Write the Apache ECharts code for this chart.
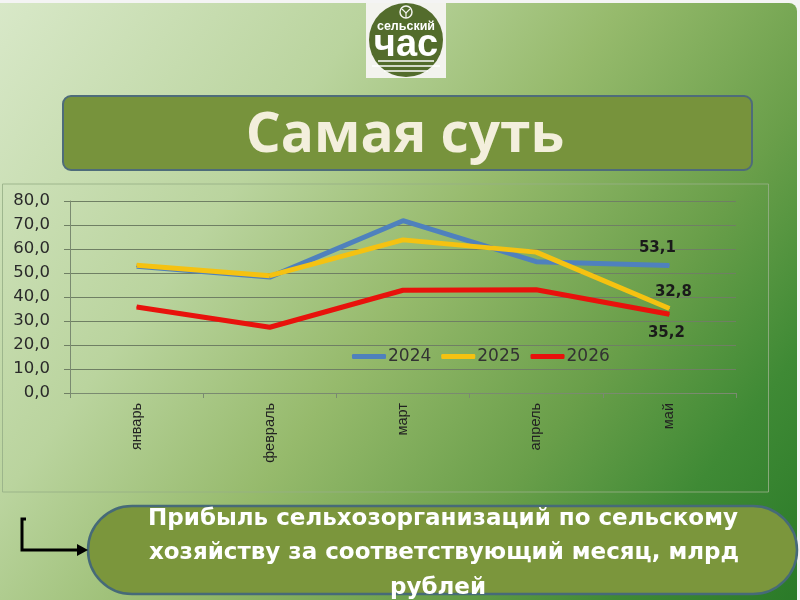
<!DOCTYPE html>
<html><head><meta charset="utf-8">
<script src="https://cdn.jsdelivr.net/npm/echarts@6/dist/echarts.min.js"></script>
<style>html,body{margin:0;padding:0;background:#f4f4f4}#c{width:800px;height:600px}</style>
</head><body><div id="c"></div>
<script>
const categories = ['январь', 'февраль', 'март', 'апрель', 'май'];
const seriesNames = ['2024', '2025', '2026'];
const v2024 = [52.8, 48.3, 71.8, 54.7, 53.1];
const v2025 = [53.2, 48.9, 63.8, 58.7, 35.2];
const v2026 = [35.8, 27.4, 42.8, 43.0, 32.8];
const yTicks = { min: 0, max: 80, interval: 10 };
const titleText = 'Самая суть';
const captionLines = ['Прибыль сельхозорганизаций по сельскому', 'хозяйству за соответствующий месяц, млрд', 'рублей'];

const fmt = v => v.toFixed(1).replace('.', ',');
const labelStyle = { fontFamily: 'DejaVu Sans', fontWeight: 'bold', fontSize: 15, color: '#1a1a1a' };

function buildData(values, lastLabel) {
  return values.map((v, i) => {
    if (i === values.length - 1 && lastLabel) {
      return { value: v, label: Object.assign({ show: true, formatter: p => fmt(p.value) }, labelStyle, lastLabel) };
    }
    return v;
  });
}

const chart = echarts.init(document.getElementById('c'));
const capFont = 'bold 23px "DejaVu Sans"';
const graphics = [
  { type: 'rect', z: -10, shape: { x: 0, y: 3, width: 797, height: 600, r: [0, 8, 0, 0] },
    style: { fill: new echarts.graphic.LinearGradient(0, 0, 1, 1, [
      { offset: 0, color: '#d8e8c8' }, { offset: 0.3, color: '#bad49e' }, { offset: 0.5, color: '#96ba6c' },
      { offset: 0.7, color: '#6a9f4a' }, { offset: 0.85, color: '#3f8a35' }, { offset: 1, color: '#2a7a28' }]) } },
  // logo
  { type: 'rect', z: -5, shape: { x: 366, y: 3, width: 80, height: 75 }, style: { fill: '#f3f3ee' } },
  { type: 'circle', z: -4, shape: { cx: 406, cy: 40, r: 37 }, style: { fill: '#536c2c' } },
  { type: 'circle', z: -3, shape: { cx: 406, cy: 12, r: 6 }, style: { fill: 'none', stroke: '#f3f3ee', lineWidth: 1.5 } },
  { type: 'polyline', z: -3, shape: { points: [[402, 9], [406, 13], [410, 9]] }, style: { stroke: '#f3f3ee', lineWidth: 1.2, fill: 'none' } },
  { type: 'line', z: -3, shape: { x1: 406, y1: 13, x2: 406, y2: 18 }, style: { stroke: '#f3f3ee', lineWidth: 1.2 } },
  { type: 'text', z: -3, x: 406, y: 27, style: { text: 'сельский', fill: '#ffffff', font: 'bold 12.5px "Liberation Sans"', align: 'center', verticalAlign: 'middle' } },
  { type: 'text', z: -3, x: 406, y: 46, style: { text: 'час', fill: '#ffffff', font: 'bold 38px "Liberation Sans"', align: 'center', verticalAlign: 'middle' } },
  { type: 'line', z: -3, shape: { x1: 378, y1: 61, x2: 434, y2: 61 }, style: { stroke: '#ffffff', lineWidth: 1.5 } },
  { type: 'line', z: -3, shape: { x1: 372, y1: 66, x2: 440, y2: 66 }, style: { stroke: '#ffffff', lineWidth: 1.5 } },
  { type: 'line', z: -3, shape: { x1: 384, y1: 71, x2: 428, y2: 71 }, style: { stroke: '#ffffff', lineWidth: 1.5 } },
  // title box
  { type: 'rect', z: -3, shape: { x: 63, y: 96, width: 689, height: 74, r: 8 }, style: { fill: '#77933c', stroke: '#4e6c7a', lineWidth: 2 } },
  { type: 'text', z: -2, x: 405, y: 136, style: { text: titleText, fill: '#f3efdc', font: 'bold 55px "Open Sans"', align: 'center', verticalAlign: 'middle' } },
  // chart frame
  { type: 'rect', z: -3, shape: { x: 2.5, y: 184, width: 766, height: 308 }, style: { fill: 'none', stroke: 'rgba(150,175,135,0.85)', lineWidth: 1 } },
  // caption box
  { type: 'rect', z: -3, shape: { x: 88, y: 506, width: 709, height: 88, r: 44 }, style: { fill: '#7b963c', stroke: '#466a78', lineWidth: 2.5 } },
  { type: 'text', z: -2, x: 443, y: 519, style: { text: captionLines[0], fill: '#ffffff', font: capFont, align: 'center', verticalAlign: 'middle' } },
  { type: 'text', z: -2, x: 444, y: 553, style: { text: captionLines[1], fill: '#ffffff', font: capFont, align: 'center', verticalAlign: 'middle' } },
  { type: 'text', z: -2, x: 438, y: 588, style: { text: captionLines[2], fill: '#ffffff', font: capFont, align: 'center', verticalAlign: 'middle' } },
  // arrow
  { type: 'polyline', z: -2, shape: { points: [[26, 519], [22, 519], [22, 550], [80, 550]] }, style: { stroke: '#000', lineWidth: 3, fill: 'none' } },
  { type: 'polygon', z: -2, shape: { points: [[77, 544], [88, 550], [77, 556]] }, style: { fill: '#000' } }
];

chart.setOption({
  animation: false,
  backgroundColor: '#f4f4f4',
  graphic: graphics,
  grid: { left: 70, right: 64, top: 201, bottom: 207 },
  legend: {
    left: 347, top: 343, itemWidth: 34, itemHeight: 5, itemGap: 10, icon: 'roundRect',
    data: seriesNames,
    textStyle: { fontFamily: 'DejaVu Sans', fontSize: 17, color: '#333', padding: [0, 0, 0, -3] }
  },
  xAxis: {
    type: 'category', data: categories, boundaryGap: true,
    axisLine: { lineStyle: { color: '#7a8a70' } },
    axisTick: { show: true, length: 5, lineStyle: { color: '#7a8a70' } },
    axisLabel: { rotate: 90, fontFamily: 'Liberation Sans', fontSize: 14.5, color: '#222', margin: 10 }
  },
  yAxis: {
    type: 'value', min: yTicks.min, max: yTicks.max, interval: yTicks.interval,
    axisLine: { show: true, lineStyle: { color: '#7a8a70' } },
    axisTick: { show: true, length: 6, lineStyle: { color: '#6f7f64' } },
    splitLine: { lineStyle: { color: '#6f7f64', width: 1 } },
    axisLabel: { formatter: v => fmt(v), fontFamily: 'DejaVu Sans', fontSize: 16.5, color: '#2a2a2a', margin: 20 }
  },
  series: [
    { name: seriesNames[0], type: 'line', data: buildData(v2024, { position: 'top', offset: [-12, -4] }),
      symbol: 'circle', symbolSize: 1, color: '#4f81bd', lineStyle: { width: 5, color: '#4f81bd' } },
    { name: seriesNames[1], type: 'line', data: buildData(v2025, { position: 'bottom', offset: [-3, 12] }),
      symbol: 'circle', symbolSize: 1, color: '#f5c211', lineStyle: { width: 5, color: '#f5c211' } },
    { name: seriesNames[2], type: 'line', data: buildData(v2026, { position: 'top', offset: [4, -9] }),
      symbol: 'circle', symbolSize: 1, color: '#e8120c', lineStyle: { width: 5, color: '#e8120c' } }
  ]
});
</script></body></html>
